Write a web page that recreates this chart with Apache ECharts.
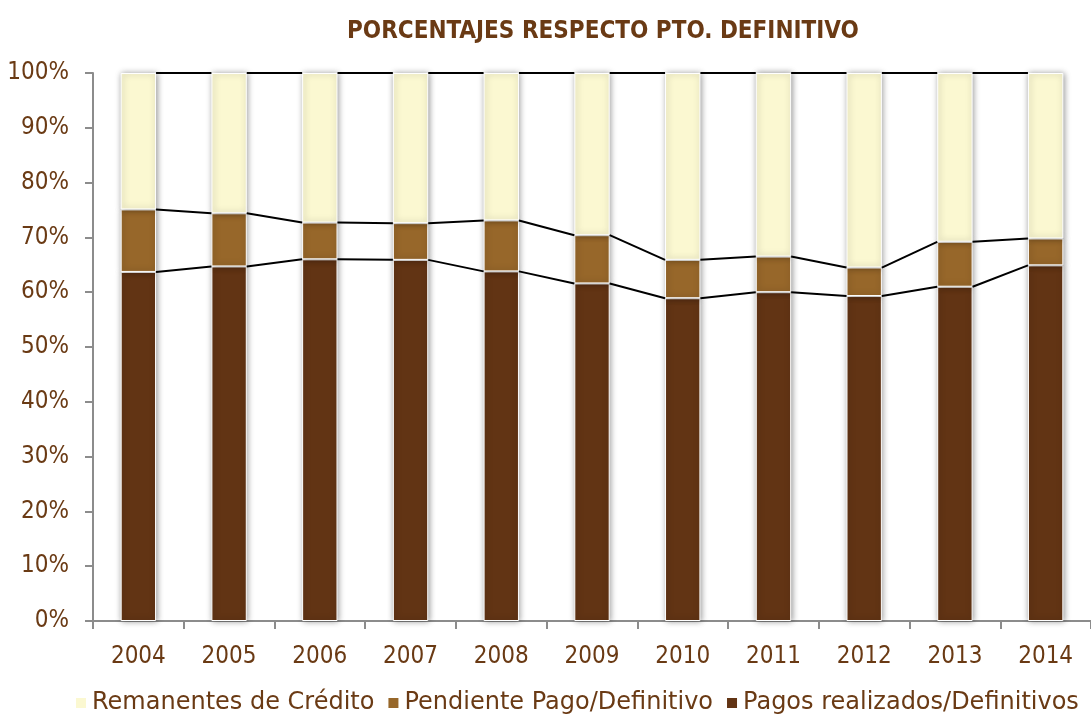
<!DOCTYPE html>
<html>
<head>
<meta charset="utf-8">
<script src="https://cdn.jsdelivr.net/npm/echarts@6/dist/echarts.min.js"></script>
<style>
  html, body { margin: 0; padding: 0; background: #fff; }
  #chart { width: 1091px; height: 715px; }
</style>
</head>
<body>
<div id="chart"></div>
<script>
// Years on the category axis
const years = ['2004', '2005', '2006', '2007', '2008', '2009', '2010', '2011', '2012', '2013', '2014'];
// Share of the final budget (%) per year
const pagosRealizados = [63.7, 64.7, 66.0, 65.9, 63.8, 61.6, 58.9, 60.0, 59.3, 61.0, 64.9];
const pendientePago   = [11.4, 9.7, 6.7, 6.7, 9.3, 8.8, 7.0, 6.5, 5.2, 8.2, 4.9];
const remanentes      = pagosRealizados.map((p, i) => +(100 - p - pendientePago[i]).toFixed(1));
// Y-axis ticks
const yTicks = [0, 10, 20, 30, 40, 50, 60, 70, 80, 90, 100];

const seriesNames = ['Remanentes de Crédito', 'Pendiente Pago/Definitivo', 'Pagos realizados/Definitivos'];
const textColor = '#6a3a14';
const fontFamily = 'DejaVu Sans';
const axisFont = '"DejaVu Sans Condensed", "DejaVu Sans"';
const barWidthRatio = 0.39;

// Cumulative tops of each stack level, used by the connector lines
const levelPagos = pagosRealizados;
const levelPendiente = pagosRealizados.map((p, i) => p + pendientePago[i]);
const levelTotal = levelPendiente.map((v, i) => v + remanentes[i]);

function connectorData() {
  const out = [];
  [levelPagos, levelPendiente, levelTotal].forEach(level => {
    for (let i = 0; i < years.length - 1; i++) {
      out.push([i, level[i], level[i + 1]]);
    }
  });
  return out;
}

const barShadow = {
  shadowBlur: 6,
  shadowColor: 'rgba(0,0,0,0.4)',
  shadowOffsetX: 1,
  borderColor: '#ffffff',
  borderWidth: 1
};

const chart = echarts.init(document.getElementById('chart'), null, { renderer: 'canvas' });
chart.setOption({
  animation: false,
  backgroundColor: '#ffffff',
  title: {
    text: 'PORCENTAJES RESPECTO PTO. DEFINITIVO',
    left: 342,
    top: 15,
    textStyle: { color: textColor, fontFamily: axisFont, fontWeight: 'bold', fontSize: 24 }
  },
  legend: {
    data: seriesNames,
    left: 69,
    top: 686,
    itemWidth: 12,
    itemHeight: 12,
    itemGap: 12,
    icon: 'rect',
    textStyle: { color: textColor, fontFamily: fontFamily, fontSize: 24, padding: [0, 0, 0, 0] }
  },
  grid: { left: 93, right: -10, top: 73, bottom: 94, containLabel: false },
  xAxis: {
    type: 'category',
    data: years,
    axisLine: { lineStyle: { color: '#8c8c8c', width: 2 } },
    axisTick: { show: true, length: 8, lineStyle: { color: '#8c8c8c', width: 2 } },
    axisLabel: { color: textColor, fontFamily: axisFont, fontSize: 24, margin: 24 }
  },
  yAxis: {
    type: 'value',
    min: yTicks[0],
    max: yTicks[yTicks.length - 1],
    interval: 10,
    axisLine: { show: true, lineStyle: { color: '#8c8c8c', width: 2 } },
    axisTick: { show: true, length: 8, lineStyle: { color: '#8c8c8c', width: 2 } },
    splitLine: { show: false },
    axisLabel: { color: textColor, fontFamily: axisFont, fontSize: 24, margin: 24, formatter: '{value}%' }
  },
  series: [
    {
      name: seriesNames[2], type: 'bar', stack: 'total', barWidth: (barWidthRatio * 100) + '%',
      data: pagosRealizados, itemStyle: Object.assign({ color: '#623414' }, barShadow)
    },
    {
      name: seriesNames[1], type: 'bar', stack: 'total',
      data: pendientePago, itemStyle: Object.assign({ color: '#97672a' }, barShadow)
    },
    {
      name: seriesNames[0], type: 'bar', stack: 'total',
      data: remanentes, itemStyle: Object.assign({ color: '#fbf8d1' }, barShadow)
    },
    {
      // Series lines joining the stack levels of neighbouring bars
      type: 'custom',
      z: 5,
      silent: true,
      data: connectorData(),
      renderItem: function (params, api) {
        const i = api.value(0);
        const band = api.size([1, 0])[0];
        const half = band * barWidthRatio / 2;
        const a = api.coord([i, api.value(1)]);
        const b = api.coord([i + 1, api.value(2)]);
        return {
          type: 'line',
          shape: { x1: a[0] + half, y1: a[1], x2: b[0] - half, y2: b[1] },
          style: { stroke: '#000000', lineWidth: 2 }
        };
      }
    }
  ]
});
</script>
</body>
</html>
